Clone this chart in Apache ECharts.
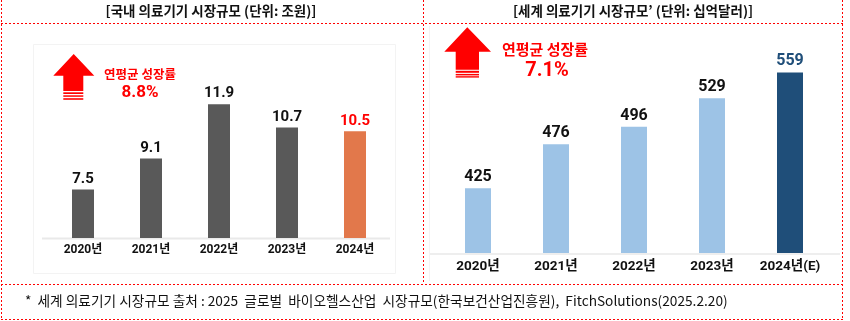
<!DOCTYPE html>
<html><head><meta charset="utf-8">
<script src="https://cdn.jsdelivr.net/npm/echarts@6/dist/echarts.min.js"></script>
<style>html,body{margin:0;padding:0;background:#fff;}#c{width:850px;height:321px;}</style>
</head><body><div id="c"></div>
<script>
const domesticYears = ['2020년', '2021년', '2022년', '2023년', '2024년'];
const domesticValues = [7.5, 9.1, 11.9, 10.7, 10.5];
const globalYears = ['2020년', '2021년', '2022년', '2023년', '2024년(E)'];
const globalValues = [425, 476, 496, 529, 559];
const domesticTitle = '[국내 의료기기 시장규모 (단위: 조원)]';
const globalTitle = '[세계 의료기기 시장규모’ (단위: 십억달러)]';
const domesticCagr = '8.8%';
const globalCagr = '7.1%';
const cagrLabel = '연평균 성장률';
const footnote = '*  세계 의료기기 시장규모 출처 : 2025  글로벌  바이오헬스산업  시장규모(한국보건산업진흥원),  FitchSolutions(2025.2.20)';

const NARROW = '"Liberation Sans Narrow", "Arial Narrow", Roboto, "Noto Sans CJK KR", sans-serif';
const KR = '"Noto Sans CJK KR", "Noto Sans", sans-serif';
const RED = '#FF0000';

function dotted(x1, y1, x2, y2) {
  return { type: 'line', silent: true, shape: { x1, y1, x2, y2 },
    style: { stroke: RED, lineWidth: 1, lineDash: [2, 2] } };
}
function arrow(tipX, tipY, headL, headR, headY, shaftL, shaftR, solidBottom, stripes) {
  const els = [{ type: 'polygon', silent: true,
    shape: { points: [[tipX, tipY], [headR, headY], [shaftR, headY], [shaftR, solidBottom], [shaftL, solidBottom], [shaftL, headY], [headL, headY]] },
    style: { fill: RED } }];
  stripes.forEach(s => els.push({ type: 'rect', silent: true,
    shape: { x: shaftL, y: s[0], width: shaftR - shaftL, height: s[1] - s[0] }, style: { fill: RED } }));
  return els;
}

const chart = echarts.init(document.getElementById('c'), null, { renderer: 'canvas' });
chart.setOption({
  animation: false,
  backgroundColor: '#ffffff',
  grid: [
    { left: 49, width: 340, top: 44, height: 194 },
    { left: 439, width: 390, top: 37, height: 216 }
  ],
  xAxis: [
    { type: 'category', gridIndex: 0, data: domesticYears,
      axisLine: { show: false }, axisTick: { show: false },
      axisLabel: { interval: 0, margin: 6, fontFamily: NARROW, fontWeight: 'bold', fontSize: 12, color: '#111' } },
    { type: 'category', gridIndex: 1, data: globalYears,
      axisLine: { show: false }, axisTick: { show: false },
      axisLabel: { interval: 0, margin: 7, fontFamily: NARROW, fontWeight: 'bold', fontSize: 13.5, color: '#111' } }
  ],
  yAxis: [
    { type: 'value', gridIndex: 0, min: 5, max: 15, show: false, splitLine: { show: false } },
    { type: 'value', gridIndex: 1, min: 350, max: 600, show: false, splitLine: { show: false } }
  ],
  series: [
    { type: 'bar', xAxisIndex: 0, yAxisIndex: 0, data: domesticValues, barWidth: 22,
      itemStyle: { color: p => p.dataIndex === domesticValues.length - 1 ? '#E2784B' : '#595959' },
      label: { show: true, position: 'top', distance: 3, fontFamily: NARROW, fontWeight: 'bold', fontSize: 15,
        color: '#111',
        formatter: p => p.dataIndex === domesticValues.length - 1 ? '{r|' + p.value + '}' : String(p.value),
        rich: { r: { color: RED, fontFamily: NARROW, fontWeight: 'bold', fontSize: 15 } } } },
    { type: 'bar', xAxisIndex: 1, yAxisIndex: 1, data: globalValues, barWidth: 26,
      itemStyle: { color: p => p.dataIndex === globalValues.length - 1 ? '#1F4E79' : '#9DC3E6' },
      label: { show: true, position: 'top', distance: 3, fontFamily: NARROW, fontWeight: 'bold', fontSize: 16,
        color: '#111',
        formatter: p => p.dataIndex === globalValues.length - 1 ? '{b|' + p.value + '}' : String(p.value),
        rich: { b: { color: '#1F4E79', fontFamily: NARROW, fontWeight: 'bold', fontSize: 16 } } } }
  ],
  graphic: [
    { type: 'rect', silent: true, shape: { x: 33.5, y: 44.5, width: 362, height: 229 }, style: { fill: 'none', stroke: '#f3f3f3', lineWidth: 1 } },
    { type: 'line', silent: true, shape: { x1: 429.5, y1: 26, x2: 429.5, y2: 281 }, style: { stroke: '#f3f3f3', lineWidth: 1 } },
    { type: 'line', silent: true, shape: { x1: 42, y1: 238.5, x2: 390, y2: 238.5 }, style: { stroke: '#e9e9e9', lineWidth: 2 } },
    { type: 'line', silent: true, shape: { x1: 430, y1: 254, x2: 840, y2: 254 }, style: { stroke: '#eeeeee', lineWidth: 2 } },
    dotted(1.5, 0, 1.5, 320),
    dotted(842.5, 0, 842.5, 320),
    dotted(423.5, 0, 423.5, 284),
    dotted(1, 23.5, 843, 23.5),
    dotted(1, 284.5, 843, 284.5),
    dotted(1, 319.5, 843, 319.5),
    { type: 'text', silent: true, x: 211, y: 11, style: { text: domesticTitle, font: 'bold 13.5px ' + KR, fill: '#111', align: 'center', verticalAlign: 'middle' } },
    { type: 'text', silent: true, x: 633, y: 11, style: { text: globalTitle, font: 'bold 13.5px ' + KR, fill: '#111', align: 'center', verticalAlign: 'middle' } },
    ...arrow(73.7, 54, 53.3, 94.3, 75.7, 63.3, 83.3, 91, [[92.3, 94], [95.3, 96.8], [98.2, 99.8]]),
    ...arrow(467.3, 27.3, 444.3, 491, 51.7, 455.7, 479, 69.8, [[70.8, 72.8], [73.9, 75.4], [76.2, 77.6]]),
    { type: 'text', silent: true, x: 140, y: 74, style: { text: cagrLabel, font: 'bold 12.5px ' + KR, fill: RED, align: 'center', verticalAlign: 'middle' } },
    { type: 'text', silent: true, x: 140, y: 93, style: { text: domesticCagr, font: 'bold 17px ' + NARROW, fill: RED, align: 'center', verticalAlign: 'middle' } },
    { type: 'text', silent: true, x: 545, y: 49, style: { text: cagrLabel, font: 'bold 15px ' + KR, fill: RED, align: 'center', verticalAlign: 'middle' } },
    { type: 'text', silent: true, x: 547, y: 71, style: { text: globalCagr, font: 'bold 20px ' + NARROW, fill: RED, align: 'center', verticalAlign: 'middle' } },
    { type: 'text', silent: true, x: 25, y: 301, style: { text: footnote, font: '13.7px ' + KR, fill: '#111', align: 'left', verticalAlign: 'middle' } }
  ]
});
</script></body></html>
